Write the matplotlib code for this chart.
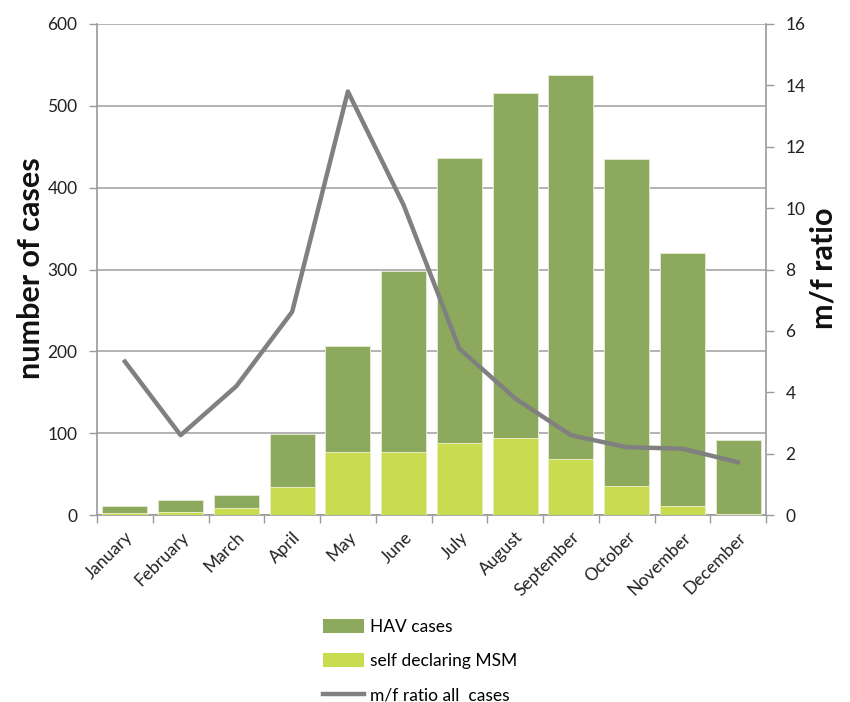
import matplotlib
matplotlib.use('Agg')
import matplotlib.pyplot as plt
from matplotlib.patches import Patch
from matplotlib.lines import Line2D
import numpy as np

plt.rcParams['font.family'] = ['Lato', 'DejaVu Sans']

# data
months = ['January', 'February', 'March', 'April', 'May', 'June', 'July',
          'August', 'September', 'October', 'November', 'December']
hav_cases = [11, 18, 25, 99, 206, 298, 436, 516, 538, 435, 320, 92]
msm_cases = [2, 4, 8, 34, 77, 77, 88, 94, 68, 36, 11, 1]
mf_ratio = [5.0, 2.6, 4.2, 6.62, 13.8, 10.1, 5.42, 3.8, 2.6, 2.21, 2.16, 1.72]

hav_col = '#8DA95E'
msm_col = '#C9DB4F'
line_col = '#808080'
axis_col = '#9A9A9A'

fig = plt.figure(figsize=(8.5, 7.02), dpi=100)
ax = fig.add_axes([97/850, 1 - 515/702, (766-97)/850, (515-24)/702])
x = np.arange(len(months))

ax.bar(x, hav_cases, width=0.81, color=hav_col, edgecolor='#E2E9D2', linewidth=0.7, zorder=2)
ax.bar(x, msm_cases, width=0.81, color=msm_col, edgecolor='#E6EDC0', linewidth=0.7, zorder=3)

ax.set_xlim(-0.5, 11.5)
ax.set_ylim(0, 600)
ax.set_yticks(range(0, 601, 100))
ax.yaxis.grid(True, color='#A6A6A6', linewidth=1.2)
ax.set_axisbelow(True)

ax.set_xticks(np.arange(-0.5, 12, 1))
ax.set_xticklabels([])
ax.set_xticks(x, minor=True)
ax.set_xticklabels(months, minor=True, rotation=45, ha='right',
                   rotation_mode='anchor', fontsize=12.5, color='#222222')
ax.tick_params(axis='x', which='minor', length=0, pad=10)
ax.tick_params(axis='x', which='major', length=6, color=axis_col, width=1)
ax.tick_params(axis='y', length=6, color=axis_col, width=1, labelsize=12.5,
               labelcolor='#222222', pad=8)

for s in ['top', 'right']:
    ax.spines[s].set_visible(False)
for s in ['left', 'bottom']:
    ax.spines[s].set_color(axis_col)
    ax.spines[s].set_linewidth(1.2)

ax2 = ax.twinx()
ax2.plot(x, mf_ratio, color=line_col, linewidth=3.2, zorder=5)
ax2.set_ylim(0, 16)
ax2.set_yticks(range(0, 17, 2))
ax2.tick_params(axis='y', length=6, color=axis_col, width=1, labelsize=12.5,
                labelcolor='#222222', pad=8)
for s in ['top', 'left', 'bottom']:
    ax2.spines[s].set_visible(False)
ax2.spines['right'].set_color(axis_col)
ax2.spines['right'].set_linewidth(1.2)

# axis titles placed in figure pixels
fig.text(31/850, 1 - 268/702, 'number of cases', rotation=90, ha='center', va='center',
         fontsize=22, fontweight='bold', color='#111111')
fig.text(824/850, 1 - 268/702, 'm/f ratio', rotation=90, ha='center', va='center',
         fontsize=22, fontweight='bold', color='#111111')

handles = [Patch(facecolor=hav_col, edgecolor='none'),
           Patch(facecolor=msm_col, edgecolor='none'),
           Line2D([0], [0], color=line_col, linewidth=3.2)]
labels = ['HAV cases', 'self declaring MSM', 'm/f ratio all  cases']
fig.legend(handles, labels, loc='upper left', bbox_to_anchor=(307/850, 1 - 603/702),
           frameon=False, fontsize=12.5, handlelength=2.4, handleheight=0.9,
           labelspacing=1.05, handletextpad=0.3)

fig.savefig('out.png', dpi=100)
